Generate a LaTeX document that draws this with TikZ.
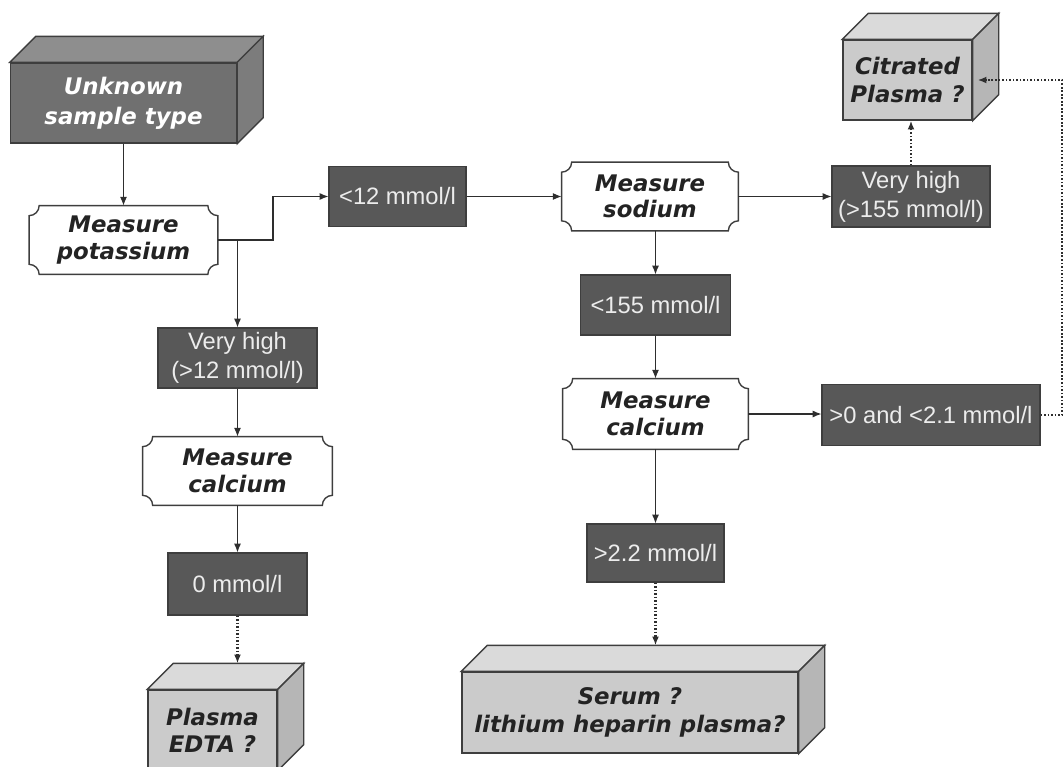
\documentclass[tikz,border=0pt]{standalone}
\usepackage{fontspec}
\usetikzlibrary{arrows.meta,backgrounds,calc}
\newfontfamily\labf{Liberation Sans}
\newfontfamily\bldf{DejaVu Sans}
\definecolor{boxdark}{HTML}{585858}
\definecolor{boxedge}{HTML}{3E3E3E}
\definecolor{labtext}{HTML}{ECECEC}
\definecolor{bldtext}{HTML}{232323}
\definecolor{linecol}{HTML}{2E2E2E}
\definecolor{dfront}{HTML}{707070}
\definecolor{dtop}{HTML}{8E8E8E}
\definecolor{dside}{HTML}{7C7C7C}
\definecolor{lfront}{HTML}{CBCBCB}
\definecolor{ltop}{HTML}{DADADA}
\definecolor{lside}{HTML}{B6B6B6}
\tikzset{
  lbl/.style={fill=boxdark, draw=boxedge, line width=0.6pt, text=labtext,
    font=\labf\fontsize{13.5}{16.5}\selectfont, align=center, inner sep=0pt},
  meas/.style={text=bldtext, font=\bldf\bfseries\itshape\fontsize{13}{15}\selectfont,
    align=center, inner sep=0pt},
  cartline/.style={fill=white, draw=boxedge, line width=0.8pt},
  darkcube/.style={fill=dfront, draw=boxedge, line width=0.8pt, text=white,
    font=\bldf\bfseries\itshape\fontsize{13}{17}\selectfont, align=center, inner sep=0pt},
  lightcube/.style={fill=lfront, draw=boxedge, line width=0.8pt, text=bldtext,
    font=\bldf\bfseries\itshape\fontsize{13}{15.5}\selectfont, align=center, inner sep=0pt},
  conn/.style={draw=linecol, line width=0.7pt, -{Latex[length=5pt,width=4pt]}},
  dotconn/.style={conn, line width=1.5pt, dash pattern=on 1pt off 1pt}
}
\newcommand\cartouche[1]{%
  \filldraw[cartline] ([xshift=2mm]#1.north west) -- ([xshift=-2mm]#1.north east)
    arc[start angle=180,end angle=270,radius=2mm] -- ([yshift=2mm]#1.south east)
    arc[start angle=90,end angle=180,radius=2mm] -- ([xshift=2mm]#1.south west)
    arc[start angle=0,end angle=90,radius=2mm] -- ([yshift=-2mm]#1.north west)
    arc[start angle=270,end angle=360,radius=2mm] -- cycle;}
\newcommand\cubefaces[3]{%
  \filldraw[fill=#2, draw=boxedge, line width=0.8pt] (#1.north west) -- ++(5.2mm,5.2mm)
    -- ([shift={(5.2mm,5.2mm)}]#1.north east) -- (#1.north east) -- cycle;
  \filldraw[fill=#3, draw=boxedge, line width=0.8pt] (#1.north east) -- ++(5.2mm,5.2mm)
    -- ([shift={(5.2mm,5.2mm)}]#1.south east) -- (#1.south east) -- cycle;}
\begin{document}
\begin{tikzpicture}[x=0.2mm, y=-0.2mm]
\useasboundingbox (0,0) rectangle (1063,767);
\clip (0,0) rectangle (1063,767);

% 3D boxes
\node[darkcube, minimum width=226*0.2mm, minimum height=80*0.2mm] (unk) at (123.5,103) {Unknown\\sample type};
\node[lightcube, minimum width=129*0.2mm, minimum height=80*0.2mm] (cit) at (907.5,80) {Citrated\\Plasma ?};
\node[lightcube, minimum width=336*0.2mm, minimum height=81*0.2mm] (ser) at (630,712.5) {Serum ?\\lithium heparin plasma?};
\node[lightcube, minimum width=129*0.2mm, minimum height=80*0.2mm] (pe) at (212.5,730) {Plasma\\EDTA ?};
\cubefaces{unk}{dtop}{dside}
\cubefaces{cit}{ltop}{lside}
\cubefaces{ser}{ltop}{lside}
\cubefaces{pe}{ltop}{lside}
\coordinate (sertop) at ([shift={(5.2mm,5.2mm)}]ser.north);
\coordinate (petop) at ([shift={(5.2mm,5.2mm)}]pe.north);

% measure nodes
\node[meas, minimum width=188*0.2mm, minimum height=68*0.2mm] (mp) at (123.5,240) {Measure\\potassium};
\node[meas, minimum width=176*0.2mm, minimum height=68*0.2mm] (ms) at (650,196.5) {Measure\\sodium};
\node[meas, minimum width=185*0.2mm, minimum height=70*0.2mm] (calR) at (655.5,414) {Measure\\calcium};
\node[meas, minimum width=189*0.2mm, minimum height=68*0.2mm] (calL) at (237.5,471) {Measure\\calcium};
\begin{scope}[on background layer]
\cartouche{mp}
\cartouche{ms}
\cartouche{calR}
\cartouche{calL}
\end{scope}

% result labels
\node[lbl, minimum width=137*0.2mm, minimum height=60*0.2mm] (lt12) at (397.5,196.5) {<12 mmol/l};
\node[lbl, minimum width=158*0.2mm, minimum height=61*0.2mm] (vh155) at (911,196.5) {Very high\\(>155 mmol/l)};
\node[lbl, minimum width=150*0.2mm, minimum height=60*0.2mm] (l155) at (655.5,305) {<155 mmol/l};
\node[lbl, minimum width=218*0.2mm, minimum height=61*0.2mm] (gt0) at (931,415) {>0 and <2.1 mmol/l};
\node[lbl, minimum width=137*0.2mm, minimum height=58*0.2mm] (g22) at (655.5,553) {>2.2 mmol/l};
\node[lbl, minimum width=159*0.2mm, minimum height=60*0.2mm] (vh12) at (237.5,358) {Very high\\(>12 mmol/l)};
\node[lbl, minimum width=139*0.2mm, minimum height=62*0.2mm] (z0) at (237.5,584) {0 mmol/l};

% connectors
\coordinate (kb) at (237.5,240);
\coordinate (kc) at (273,240);
\coordinate (rr) at (1062,415);
\draw[conn] (unk.south) -- (mp.north);
\draw[conn] (mp.east) -- (kc) |- (lt12.west);
\draw[conn] (kb) -- (vh12.north);
\draw[conn] (vh12.south) -- (calL.north);
\draw[conn] (calL.south) -- (z0.north);
\draw[dotconn] (z0.south) -- (z0.south |- petop);
\draw[conn] (lt12.east) -- (ms.west);
\draw[conn] (ms.east) -- (vh155.west);
\draw[dotconn] (vh155.north) -- (vh155.north |- cit.south);
\draw[conn] (l155.north |- ms.south) -- (l155.north);
\draw[conn] (l155.south) -- (calR.north);
\draw[conn] (calR.south) -- (g22.north);
\draw[conn] (calR.east) -- (calR.east -| gt0.west);
\draw[dotconn] (gt0.east) -- (rr) |- ([xshift=1mm]cit.east);
\draw[dotconn] (g22.south) -- (g22.south |- sertop);
\end{tikzpicture}
\end{document}
